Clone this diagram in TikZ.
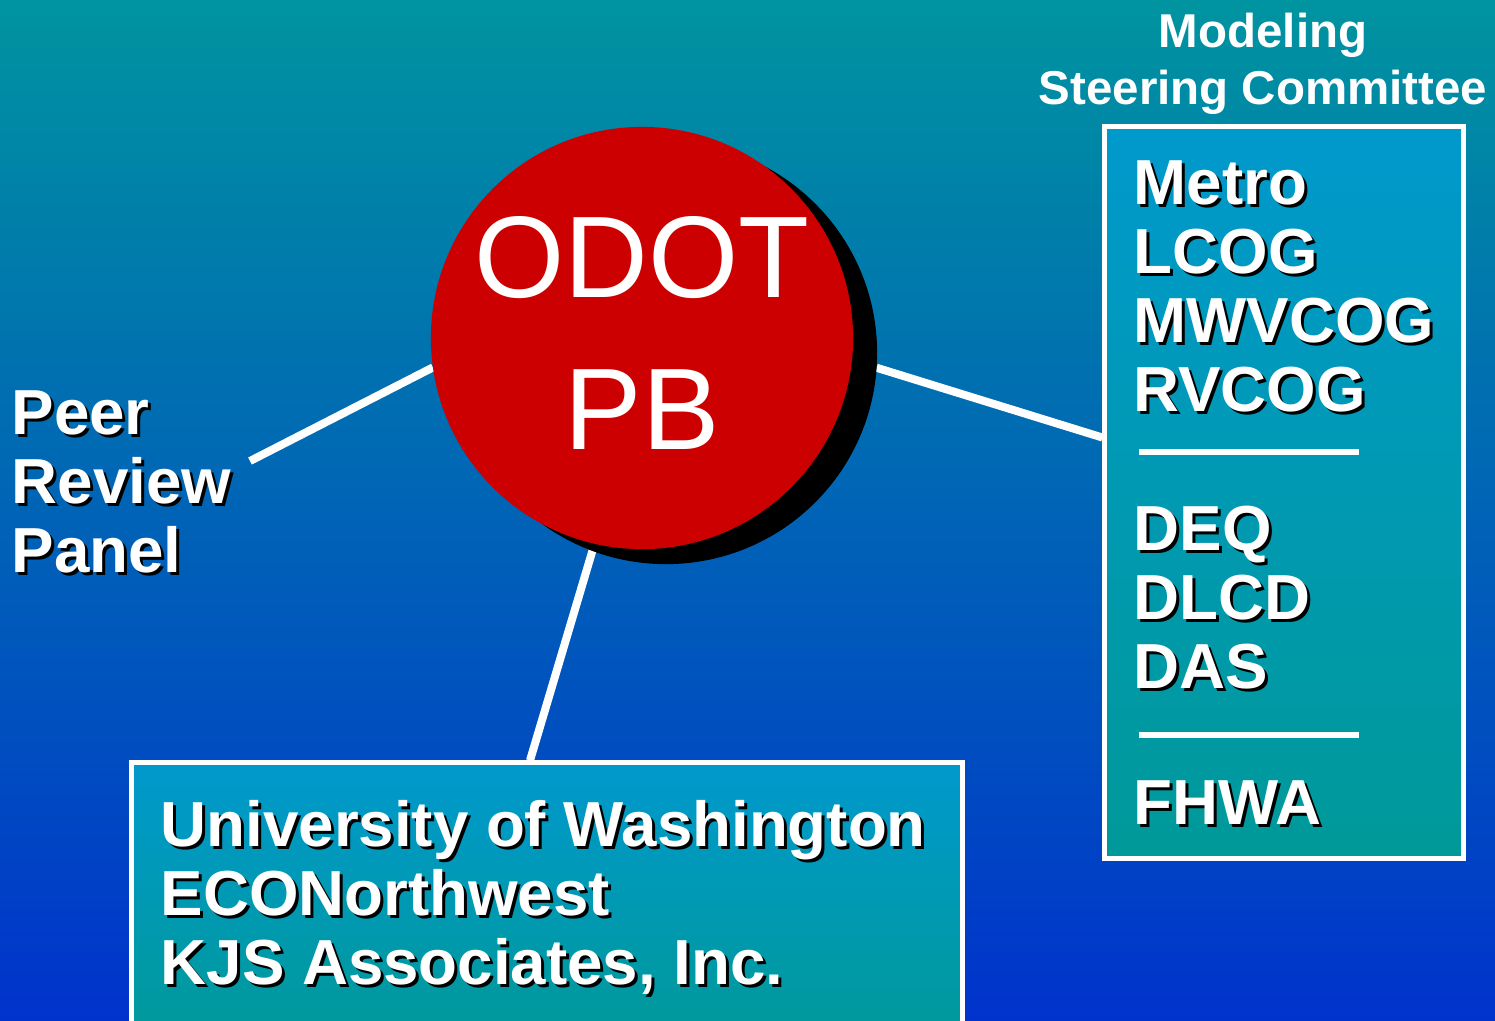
\documentclass[tikz,border=0pt]{standalone}
\usepackage{fontspec}
\setmainfont{Liberation Sans}
\usetikzlibrary{calc,backgrounds}

\definecolor{bgtop}{RGB}{0,148,160}
\definecolor{bgbottom}{RGB}{0,51,204}
\definecolor{boxtop}{RGB}{0,153,204}
\definecolor{boxbottom}{RGB}{0,153,153}
\definecolor{odotred}{RGB}{204,0,0}

\newcommand{\shadowed}[1]{\leavevmode\rlap{\kern0.03cm\raisebox{-0.03cm}{\color{black}#1}}#1}

\begin{document}
\begin{tikzpicture}[x=0.01cm,y=-0.01cm,
  listtext/.style={text=white, font=\fontsize{18.1pt}{19.6pt}\selectfont\bfseries,
    align=left, anchor=north west, inner sep=0pt},
  groupbox/.style={draw=white, line width=0.05cm, top color=boxtop,
    bottom color=boxbottom, inner sep=0pt},
  round_node/.style={circle, minimum size=4.22cm, inner sep=0pt, outer sep=0pt},
  link/.style={white, line width=0.08cm},
  sepline/.style={white, line width=0.06cm}]

    \useasboundingbox (0,0) rectangle (1495,1020);
    \clip (0,0) rectangle (1495,1020);

    \node[round_node, fill=black] (odotshadow) at (666,353) {};
    \node[round_node, fill=odotred, text=white, align=center, text depth=0.1cm,
      font=\fontsize{33pt}{43.4pt}\selectfont] (odot) at (642,338) {ODOT\\PB};

    \node[groupbox, minimum width=3.58cm, minimum height=7.31cm] (steer) at (1284,492.5) {};
    \node[groupbox, minimum width=8.30cm, minimum height=2.80cm] (univ) at (547,903) {};

    \node[text=white, font=\fontsize{13.5pt}{16.2pt}\selectfont\bfseries, align=center,
      anchor=north, inner sep=0pt] (steertitle) at (1263,12) {Modeling\\Steering Committee};

    \node[listtext] (mpos) at (1133,160) {\shadowed{Metro}\\\shadowed{LCOG}\\\shadowed{MWVCOG}\\\shadowed{RVCOG}};
    \node[listtext] (state) at (1133,505) {\shadowed{DEQ}\\\shadowed{DLCD}\\\shadowed{DAS}};
    \node[listtext] (fed) at (1133,780) {\shadowed{FHWA}};
    \draw[sepline] (1139,452) -- (1359,452);
    \draw[sepline] (1139,735) -- (1359,735);

    \node[listtext] (peer) at (11,390) {\shadowed{Peer}\\\shadowed{Review}\\\shadowed{Panel}};
    \node[listtext] (consult) at (160,800) {\shadowed{University of Washington}\\\shadowed{ECONorthwest}\\\shadowed{KJS Associates, Inc.}};

    \coordinate (peerend) at (250,461);

    \begin{pgfonlayer}{background}
    \shade[top color=bgtop, bottom color=bgbottom] (0,0) rectangle (1495,1020);
    \draw[link] (peerend) -- (odot.188);
    \draw[link] (odotshadow.-4) -- ($(steer.west)+(0,-55)$);
    \draw[link] (odot.-103) -- ($(univ.north)+(-17,0)$);
    \end{pgfonlayer}
\end{tikzpicture}
\end{document}
